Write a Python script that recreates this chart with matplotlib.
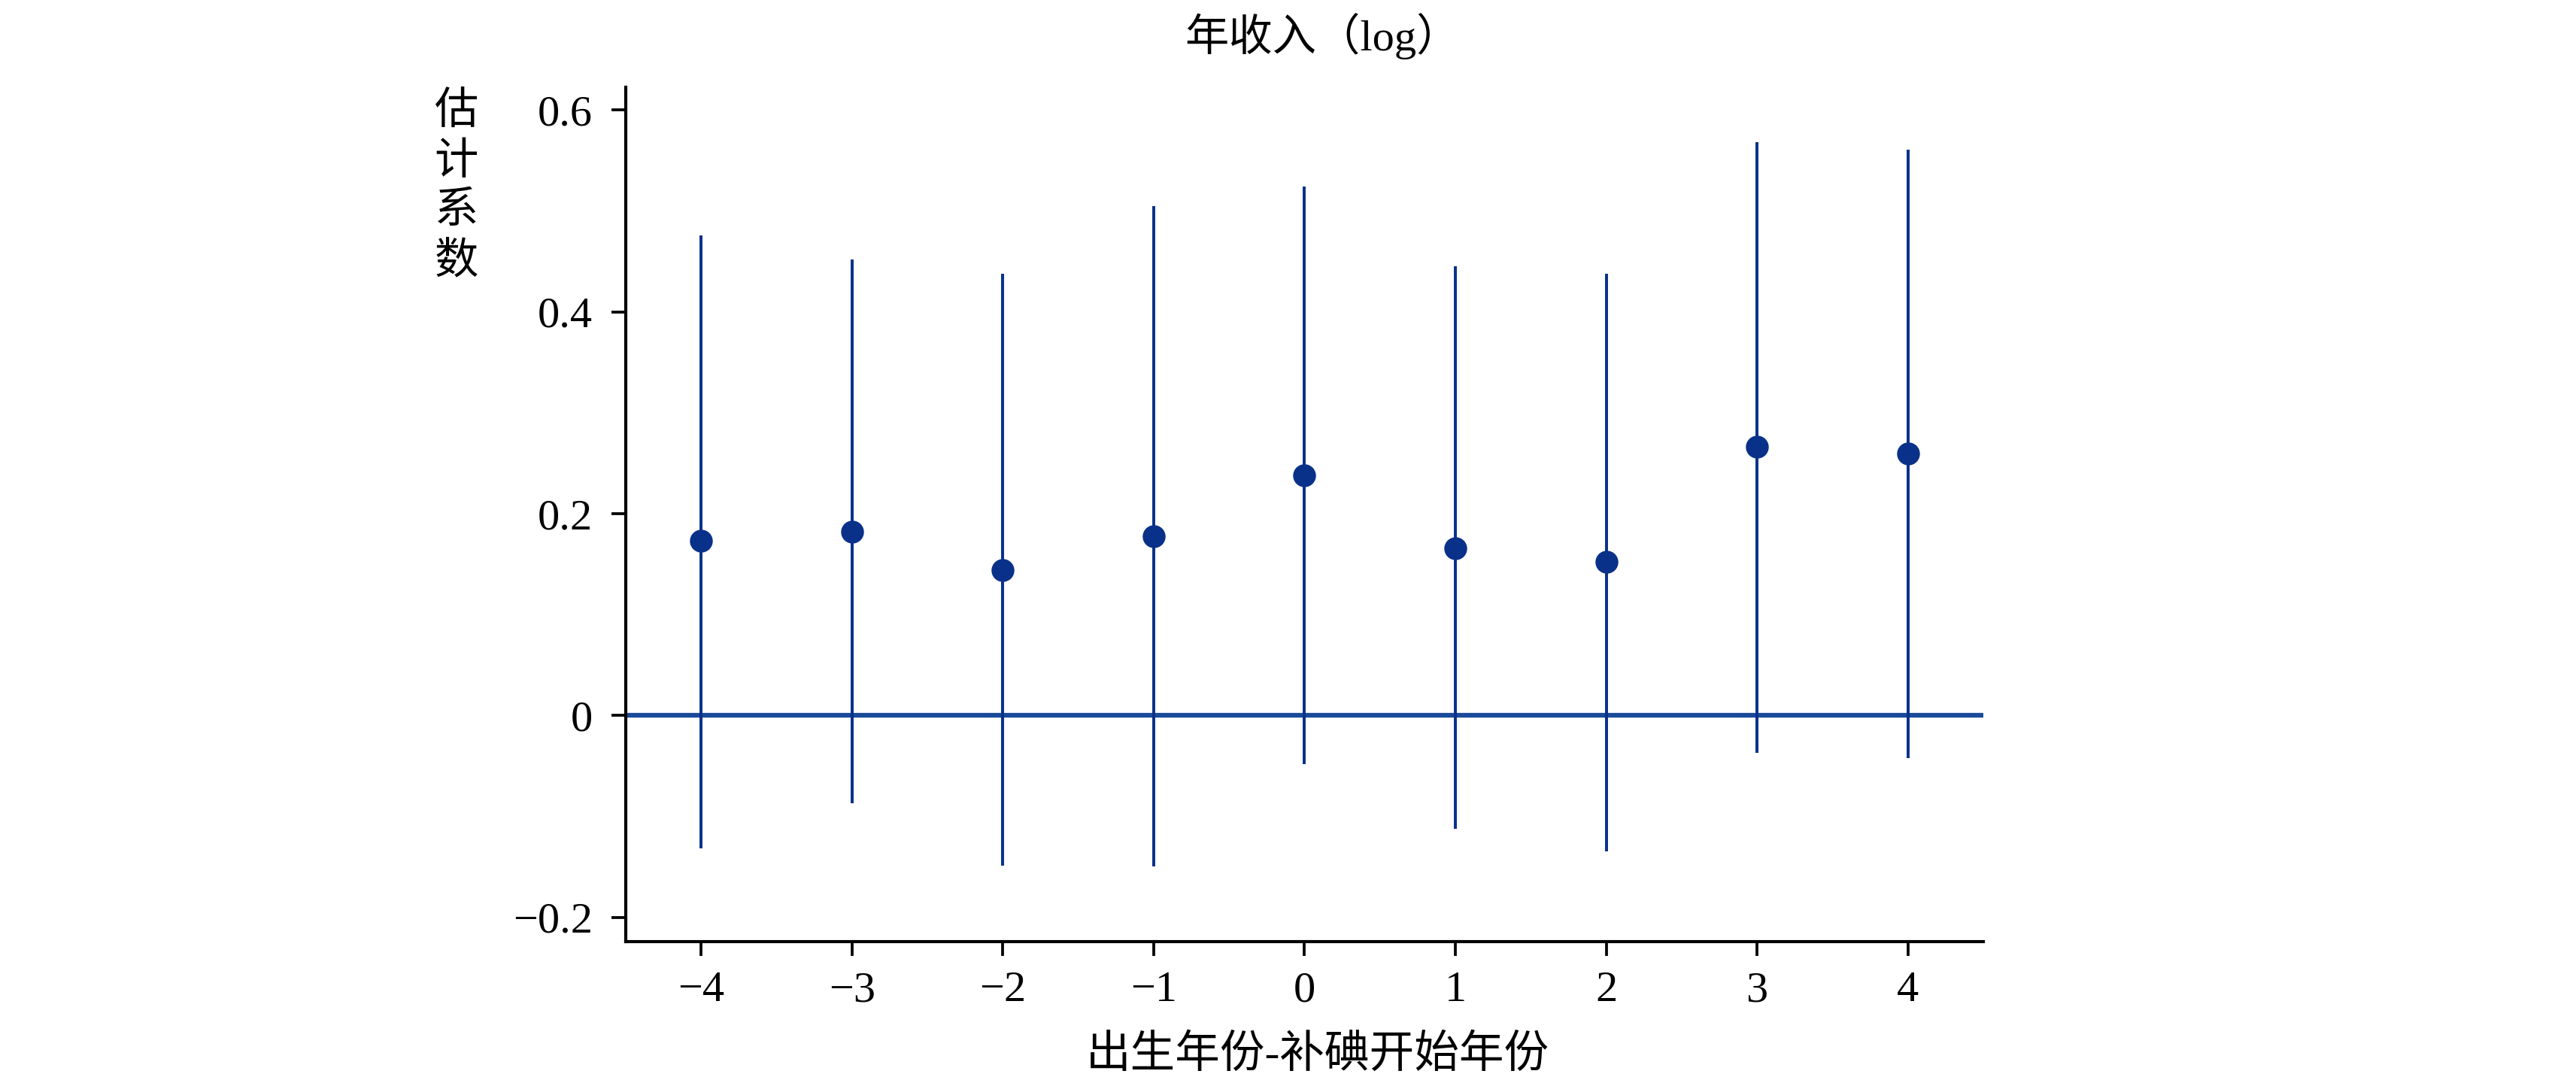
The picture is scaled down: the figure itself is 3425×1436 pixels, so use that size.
import matplotlib
matplotlib.use("Agg")
import matplotlib.pyplot as plt
from matplotlib.ticker import FuncFormatter

plt.rcParams['font.family'] = ['Liberation Serif', 'Noto Sans CJK SC']
plt.rcParams['axes.unicode_minus'] = True

# data
periods = [-4, -3, -2, -1, 0, 1, 2, 3, 4]
coef = [0.173, 0.182, 0.144, 0.178, 0.238, 0.166, 0.152, 0.266, 0.260]
ci_low = [-0.132, -0.087, -0.149, -0.150, -0.048, -0.112, -0.135, -0.037, -0.042]
ci_high = [0.476, 0.452, 0.438, 0.505, 0.524, 0.445, 0.438, 0.568, 0.561]
yticks = [-0.2, 0, 0.2, 0.4, 0.6]
title = "年收入（log）"
xlabel = "出生年份-补碘开始年份"
ylabel = "估\n计\n系\n数"

W, H, DPI = 3425, 1436, 300
fig = plt.figure(figsize=(W / DPI, H / DPI), dpi=DPI)
ax = fig.add_axes([0.2429, 0.1283, 0.7699 - 0.2429, 0.9195 - 0.1283])

navy = '#0a318a'
ax.axhline(0, color='#1a4a9a', lw=1.5, zorder=1)
ax.vlines(periods, ci_low, ci_high, color=navy, lw=0.95, zorder=2)
ax.plot(periods, coef, 'o', color=navy, ms=6.3, mec=navy, zorder=3)

ax.set_xlim(-4.5, 4.5)
ax.set_ylim(-0.224, 0.623)
ax.set_xticks(periods)
ax.set_yticks(yticks)

def fmt(v, pos):
    if abs(v) < 1e-9:
        return "0"
    s = f"{v:.1f}" if abs(v) % 1 else f"{int(v)}"
    return s.replace('-', '\u2212')

ax.xaxis.set_major_formatter(FuncFormatter(lambda v, p: str(int(round(v))).replace('-', '\u2212')))
ax.yaxis.set_major_formatter(FuncFormatter(fmt))

for s in ['top', 'right']:
    ax.spines[s].set_visible(False)
for s in ['left', 'bottom']:
    ax.spines[s].set_linewidth(1.0)
ax.tick_params(axis='both', direction='out', length=4.5, width=0.9, labelsize=14)
ax.tick_params(axis='x', pad=5)
ax.tick_params(axis='y', pad=6)

fig.text(1758 / W, 1 - 48 / H, title, ha='center', va='center', fontsize=14)
ax.set_xlabel(xlabel, fontsize=14.3, labelpad=8)
ax.xaxis.label.set_x(0.5094)
fig.text(607 / W, 1 - 122 / H, ylabel, ha='center', va='top', fontsize=14, linespacing=1.32)

fig.savefig('out.png', dpi=DPI, facecolor='white')
